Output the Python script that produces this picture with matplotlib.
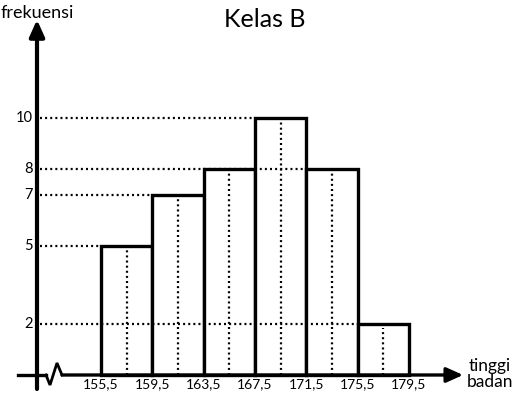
import matplotlib.pyplot as plt
import numpy as np

plt.rcParams['font.family'] = ['Lato', 'DejaVu Sans']

# data
edges = [155.5, 159.5, 163.5, 167.5, 171.5, 175.5, 179.5]
freq = [5, 7, 8, 10, 8, 2]
ytick_vals = [2, 5, 7, 8, 10]
xtick_labels = ['155,5', '159,5', '163,5', '167,5', '171,5', '175,5', '179,5']

fig = plt.figure(figsize=(5.18, 3.98), dpi=100)
ax = fig.add_axes([0, 0, 1, 1])
ax.set_xlim(147.63, 187.99)
ax.set_ylim(-0.895, 14.59)
ax.axis('off')

ux = 4 / 51.33   # data units per pixel (x)
uy = 1 / 25.7    # data units per pixel (y)
x0 = edges[0] - 64 * ux   # y axis position

# bars
left = np.array(edges[:-1])
w = np.diff(edges)
ax.bar(left, freq, width=w, align='edge', facecolor='white',
       edgecolor='black', linewidth=2.4, zorder=2)

dot = dict(color='black', lw=1.6, linestyle=(0, (0.9, 1.4)), zorder=3)

# vertical dotted lines at class midpoints
mids = left + w / 2
for m, f in zip(mids, freq):
    ax.plot([m, m], [0, f - 4 * uy], **dot)

# horizontal dotted lines to the last bar with that height
for v in ytick_vals:
    idx = max(i for i, f in enumerate(freq) if f == v)
    ax.plot([x0 + 3 * ux, left[idx]], [v, v], **dot)
    ax.text(x0 - 4 * ux, v, str(v), ha='right', va='center', fontsize=10.5)

# x tick labels
for e, lab in zip(edges, xtick_labels):
    ax.text(e, -9 * uy, lab, ha='center', va='center', fontsize=10)

# axes with arrows
ax.annotate('', xy=(x0, 14.6 - 20 * uy), xytext=(x0, -0.895 + 9 * uy),
            arrowprops=dict(arrowstyle='-|>,head_length=1.0,head_width=0.45',
                            color='black', lw=3, shrinkA=0, shrinkB=0), zorder=4)
zx = [x0 + 9 * ux, x0 + 13 * ux, x0 + 20 * ux, x0 + 25 * ux]
zy = [0, -10 * uy, 12 * uy, 0]
ax.plot([x0 - 19 * ux, zx[0]], [0, 0], color='black', lw=2.4, zorder=4)
ax.plot(zx, zy, color='black', lw=2.0, zorder=4, solid_joinstyle='miter')
ax.annotate('', xy=(edges[0] + 362 * ux, 0), xytext=(zx[-1], 0),
            arrowprops=dict(arrowstyle='-|>,head_length=1.0,head_width=0.45',
                            color='black', lw=2.4, shrinkA=0, shrinkB=0), zorder=4)

# labels
ax.text(x0 + 0 * ux, 14.6 - 13 * uy, 'frekuensi', ha='center', va='center', fontsize=13)
ax.text(edges[0] + 389 * ux, 1 * uy, 'tinggi\nbadan', ha='center', va='center',
        fontsize=12.5, linespacing=1.0)
ax.text(edges[0] + 164 * ux, 14.6 - 20 * uy, 'Kelas B', ha='center', va='center', fontsize=18)

fig.savefig('out.png', dpi=100)
